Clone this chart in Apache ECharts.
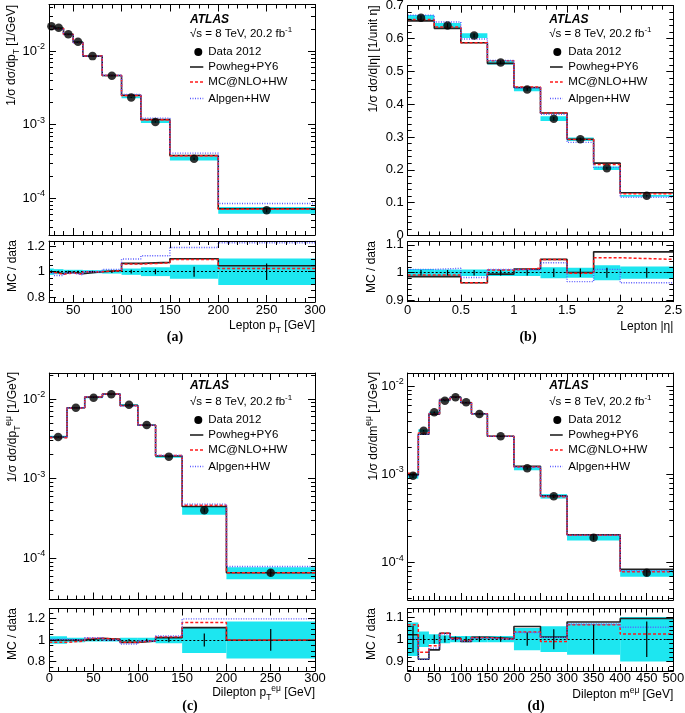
<!DOCTYPE html>
<html><head><meta charset="utf-8">
<script src="https://cdn.jsdelivr.net/npm/echarts@6/dist/echarts.min.js"></script>
<style>html,body{margin:0;padding:0;background:#fff}#c{width:685px;height:713px}</style>
</head><body><div id="c"></div>
<script>
// ---------------- Panel (a): lepton pT ----------------
const aEdges  = [25,30,40,50,60,80,100,120,150,200,300];
const aData   = [0.0218,0.0207,0.0170,0.0134,0.00855,0.00462,0.00235,0.00109,0.000345,0.000069];
const aTotErr = [0.025,0.02,0.015,0.015,0.012,0.015,0.025,0.035,0.055,0.105];
const aStatErr= [0.01,0.008,0.008,0.008,0.007,0.01,0.015,0.02,0.04,0.065];
const aPowheg = [1.0,0.985,0.995,0.985,1.0,1.01,1.066,1.074,1.103,1.047];
const aMcnlo  = [0.995,0.98,0.99,0.98,1.0,1.008,1.06,1.07,1.097,1.026];
const aAlpgen = [0.99,0.97,0.99,0.975,1.0,1.018,1.10,1.126,1.192,1.229];
const aXLabels = [50,100,150,200,250,300];

// ---------------- Panel (b): lepton |eta| ----------------
const bEdges  = [0,0.25,0.5,0.75,1,1.25,1.5,1.75,2,2.5];
const bData   = [0.663,0.640,0.609,0.527,0.445,0.356,0.293,0.205,0.121];
const bTotErr = [0.013,0.012,0.012,0.012,0.012,0.02,0.018,0.027,0.022];
const bStatErr= [0.01,0.01,0.01,0.01,0.01,0.015,0.015,0.018,0.018];
const bPowheg = [0.986,0.986,0.964,0.995,1.013,1.048,1.001,1.075,1.075];
const bMcnlo  = [0.992,0.992,0.964,1.01,1.016,1.048,0.998,1.054,1.048];
const bAlpgen = [1.012,1.016,0.983,1.012,1.01,1.036,0.968,1.012,0.964];
const bXLabels = [0,0.5,1,1.5,2,2.5];
const bYLabels = [0,0.1,0.2,0.3,0.4,0.5,0.6,0.7];

// ---------------- Panel (c): dilepton pT ----------------
const cEdges  = [0,20,40,60,80,100,120,150,200,300];
const cData   = [0.00333,0.00778,0.0104,0.01145,0.00849,0.00472,0.00189,0.000401,0.000066];
const cTotErr = [0.035,0.02,0.015,0.015,0.02,0.02,0.03,0.12,0.17];
const cStatErr= [0.01,0.008,0.008,0.008,0.01,0.012,0.02,0.06,0.1];
const cPowheg = [1.0,1.0,1.015,1.006,0.978,0.99,1.02,1.114,0.997];
const cMcnlo  = [0.978,0.99,1.015,1.006,0.978,0.993,1.03,1.16,1.0];
const cAlpgen = [1.006,1.0,1.02,1.0,0.963,0.99,1.037,1.194,1.194];
const cXLabels = [0,50,100,150,200,250,300];

// ---------------- Panel (d): dilepton mass ----------------
const dEdges  = [0,20,40,60,80,100,120,150,200,250,300,400,500];
const dData   = [0.000966,0.00312,0.00503,0.00682,0.00744,0.00653,0.00482,0.00269,0.00117,0.000564,0.000192,0.000077];
const dTotErr = [0.075,0.035,0.022,0.018,0.014,0.014,0.014,0.014,0.05,0.058,0.07,0.1];
const dStatErr= [0.06,0.02,0.02,0.015,0.012,0.012,0.012,0.012,0.03,0.045,0.065,0.08];
const dPowheg = [1.02,0.91,0.952,1.027,1.005,0.99,1.008,1.003,1.057,1.01,1.077,1.093];
const dMcnlo  = [1.065,0.941,0.97,1.027,1.003,0.994,1.008,1.0,1.032,0.99,1.065,1.023];
const dAlpgen = [1.005,0.91,0.96,1.023,1.0,0.99,1.005,1.0,1.03,1.008,1.068,1.054];
const dXLabels = [0,50,100,150,200,250,300,350,400,450,500];

const logLabels = [1e-4,1e-3,1e-2];
const ratioLabels1 = [0.8,1,1.2];
const ratioLabels2 = [0.9,1,1.1];

// ---------------- style ----------------
const FONT = '"Liberation Sans", Arial, Helvetica, sans-serif';
const CYAN = '#1de6f0';
const MC = [
  {key:'pow', name:'Powheg+PY6',  color:'#222222', width:1.6, dash:'solid'},
  {key:'mc',  name:'MC@NLO+HW',   color:'#ff1a1a', width:1.5, dash:[3,2]},
  {key:'alp', name:'Alpgen+HW',   color:'#5a5aff', width:1.4, dash:[1,1.5]}
];

const option = {animation:false, backgroundColor:'#fff', grid:[], xAxis:[], yAxis:[], series:[], graphic:[]};

function ticksRange(a, b, step, excl) {
  const out = [];
  for (let k = Math.ceil(a/step - 1e-9); k*step <= b + 1e-9; k++) {
    const v = +(k*step).toFixed(6);
    if (!excl.some(e => Math.abs(e - v) < 1e-9)) out.push(v);
  }
  return out;
}
function logMinor(min, max) {
  const out = [];
  for (let d = Math.floor(Math.log10(min)); d <= Math.ceil(Math.log10(max)); d++)
    for (let m = 2; m <= 9; m++) { const v = m*Math.pow(10, d); if (v >= min && v <= max) out.push(v); }
  return out;
}
const fmtNum = v => String(+(+v).toFixed(3));
const fmtLog = v => '{b|10}{s|' + Math.round(Math.log10(v)) + '}';
const LABEL_RICH = {
  b:{fontSize:13, color:'#000', fontFamily:FONT, lineHeight:18},
  s:{fontSize:9, color:'#000', fontFamily:FONT, lineHeight:9, verticalAlign:'top'}
};

function axis(gi, pos, s, ticks, len, withLabels, noLine) {
  const a = {type:s.type, gridIndex:gi, position:pos, min:s.min, max:s.max, z:10,
    axisLine:{show:!noLine, onZero:false, lineStyle:{color:'#000', width:1}},
    axisTick:{show:true, inside:true, length:len, customValues:ticks, lineStyle:{color:'#000', width:1}},
    axisLabel: withLabels ? {show:true, customValues:s.labels, formatter:s.fmt, color:'#000', fontSize:13,
      fontFamily:FONT, margin:s.margin, rich:LABEL_RICH} : {show:false},
    splitLine:{show:false}, minorTick:{show:false}, minorSplitLine:{show:false}};
  if (s.type === 'log') a.logBase = 10;
  return a;
}
function addFrame(rect, xs, ys) {
  const g0 = option.grid.length;
  option.grid.push(Object.assign({containLabel:false, outerBoundsMode:'none'}, rect));
  option.grid.push(Object.assign({containLabel:false, outerBoundsMode:'none'}, rect));
  const xi = option.xAxis.length, yi = option.yAxis.length;
  option.xAxis.push(axis(g0, 'bottom', xs, xs.labels, 7, xs.showLabels));
  option.xAxis.push(axis(g0, 'top', xs, xs.labels, 7, false));
  option.xAxis.push(axis(g0+1, 'bottom', xs, xs.minor, 4, false, true));
  option.xAxis.push(axis(g0+1, 'top', xs, xs.minor, 4, false, true));
  option.yAxis.push(axis(g0, 'left', ys, ys.labels, 7, true));
  option.yAxis.push(axis(g0, 'right', ys, ys.labels, 7, false));
  option.yAxis.push(axis(g0+1, 'left', ys, ys.minor, 4, false, true));
  option.yAxis.push(axis(g0+1, 'right', ys, ys.minor, 4, false, true));
  return {xi, yi};
}

function bandItem(params, api) {
  const lo = api.value(0), hi = api.value(1), v = api.value(2), e = api.value(3);
  const p1 = api.coord([lo, v*(1+e)]), p2 = api.coord([hi, v*(1-e)]);
  return {type:'rect', shape:{x:p1[0], y:p1[1], width:p2[0]-p1[0], height:p2[1]-p1[1]}, style:{fill:CYAN}};
}
function errItem(params, api) {
  const c = api.value(0), v = api.value(1), s = api.value(2);
  const p1 = api.coord([c, v*(1+s)]), p2 = api.coord([c, v*(1-s)]);
  return {type:'line', shape:{x1:p1[0], y1:p1[1], x2:p2[0], y2:p2[1]}, style:{stroke:'#000', lineWidth:1.2}};
}
function stepLine(ax, edges, vals, mc, z, extra) {
  const pts = edges.map((e, i) => [e, vals[Math.min(i, vals.length-1)]]);
  return Object.assign({type:'line', name:mc.name, xAxisIndex:ax.xi, yAxisIndex:ax.yi, data:pts, step:'end',
    symbol:'none', showSymbol:false, clip:true, silent:true, z,
    lineStyle:{color:mc.color, width:mc.width, type:mc.dash}}, extra || {});
}

function addPanel(P) {
  const m = addFrame(P.mainRect, Object.assign({showLabels:false}, P.x), P.mainY);
  const r = addFrame(P.ratioRect, Object.assign({showLabels:true}, P.x), P.ratioY);
  const n = P.data.length;
  const centers = P.data.map((_, i) => (P.edges[i] + P.edges[i+1]) / 2);
  const ratios = {pow:P.pow, mc:P.mc, alp:P.alp};
  // main plot
  option.series.push({type:'custom', xAxisIndex:m.xi, yAxisIndex:m.yi, renderItem:bandItem, clip:true, silent:true, z:1,
    encode:{x:[0,1], y:2}, data:P.data.map((v, i) => [P.edges[i], P.edges[i+1], v, P.tot[i]])});
  MC.forEach((mc, k) => option.series.push(stepLine(m, P.edges, P.data.map((v, i) => v*ratios[mc.key][i]), mc, 2+k)));
  option.series.push({type:'custom', xAxisIndex:m.xi, yAxisIndex:m.yi, renderItem:errItem, clip:true, silent:true, z:6,
    encode:{x:0, y:1}, data:centers.map((c, i) => [c, P.data[i], P.stat[i]])});
  option.series.push({type:'scatter', name:'Data 2012', xAxisIndex:m.xi, yAxisIndex:m.yi, silent:true, z:7,
    data:centers.map((c, i) => [c, P.data[i]]), symbol:'circle', symbolSize:8.5, itemStyle:{color:'#000'}});
  // ratio plot
  option.series.push({type:'custom', xAxisIndex:r.xi, yAxisIndex:r.yi, renderItem:bandItem, clip:true, silent:true, z:1,
    encode:{x:[0,1], y:2}, data:P.data.map((v, i) => [P.edges[i], P.edges[i+1], 1, P.tot[i]])});
  MC.forEach((mc, k) => option.series.push(stepLine(r, P.edges, ratios[mc.key], mc, 3+k, k === 0 ? {
    markLine:{silent:true, symbol:['none','none'], animation:false, label:{show:false}, z:2,
      lineStyle:{color:'#000', type:[2,2], width:1}, data:[{yAxis:1}]}} : null)));
  option.series.push({type:'custom', xAxisIndex:r.xi, yAxisIndex:r.yi, renderItem:errItem, clip:true, silent:true, z:7,
    encode:{x:0, y:1}, data:centers.map((c, i) => [c, 1, P.stat[i]])});
}

// ---------------- text helpers ----------------
const TXT_RICH = {
  n:{fontSize:12, fontFamily:FONT, fill:'#000', lineHeight:18},
  sub:{fontSize:8.5, fontFamily:FONT, fill:'#000', lineHeight:9, verticalAlign:'bottom'},
  sup:{fontSize:8.5, fontFamily:FONT, fill:'#000', lineHeight:9, verticalAlign:'top'}
};
function txt(x, y, text, opts) {
  option.graphic.push(Object.assign({type:'text', x, y, silent:true, z:100,
    style:Object.assign({text, rich:TXT_RICH, fill:'#000', fontFamily:FONT, fontSize:12, align:'left', verticalAlign:'middle'}, (opts && opts.style) || {})},
    (opts && opts.el) || {}));
}
function yTitle(x, yTop, text) { txt(x, yTop, text, {style:{align:'right'}, el:{rotation:Math.PI/2}}); }
function yTitleC(x, yc, text) { txt(x, yc, text, {style:{align:'center'}, el:{rotation:Math.PI/2}}); }

const LEG_RICH = {
  n:{fontSize:11.5, fontFamily:FONT, fill:'#000', lineHeight:16},
  sup:{fontSize:8, fontFamily:FONT, fill:'#000', lineHeight:8, verticalAlign:'top'}
};
function addLegend(o) {
  txt(o.xA, o.yAtlas, 'ATLAS', {style:{fontWeight:'bold', fontStyle:'italic', fontSize:12}});
  txt(o.xA, o.ySqrt, '{n|\u221As = 8 TeV, 20.2 fb}{sup|-1}', {style:{rich:LEG_RICH}});
  option.graphic.push({type:'circle', silent:true, z:100, shape:{cx:o.xDot, cy:o.rows[0], r:4}, style:{fill:'#000'}});
  txt(o.xT, o.rows[0], 'Data 2012', {style:{fontSize:11.5}});
  MC.forEach((mc, k) => {
    const y = o.rows[k+1];
    option.graphic.push({type:'line', silent:true, z:100, shape:{x1:o.xL1, y1:y, x2:o.xL2, y2:y},
      style:{stroke:mc.color, lineWidth:mc.width, lineDash:Array.isArray(mc.dash) ? mc.dash : null}});
    txt(o.xT, y, mc.name, {style:{fontSize:11.5}});
  });
}

// ---------------- panels ----------------
addPanel({
  edges:aEdges, data:aData, tot:aTotErr, stat:aStatErr, pow:aPowheg, mc:aMcnlo, alp:aAlpgen,
  mainRect:{left:49, top:4.5, width:266, height:230.5},
  ratioRect:{left:49, top:241, width:266, height:61},
  x:{type:'value', min:25, max:300, labels:aXLabels, minor:ticksRange(25, 300, 10, aXLabels), fmt:fmtNum, margin:2},
  mainY:{type:'log', min:3.17e-5, max:0.043, labels:logLabels, minor:logMinor(3.17e-5, 0.043), fmt:fmtLog, margin:4},
  ratioY:{type:'value', min:0.76, max:1.243, labels:ratioLabels1, minor:ticksRange(0.76, 1.243, 0.05, ratioLabels1), fmt:fmtNum, margin:4}
});
addPanel({
  edges:bEdges, data:bData, tot:bTotErr, stat:bStatErr, pow:bPowheg, mc:bMcnlo, alp:bAlpgen,
  mainRect:{left:407.7, top:5.7, width:265.6, height:229.8},
  ratioRect:{left:407.7, top:241.7, width:265.6, height:60},
  x:{type:'value', min:0, max:2.5, labels:bXLabels, minor:ticksRange(0, 2.5, 0.1, bXLabels), fmt:fmtNum, margin:2},
  mainY:{type:'value', min:0, max:0.7, labels:bYLabels, minor:ticksRange(0, 0.7, 0.02, bYLabels), fmt:fmtNum, margin:4},
  ratioY:{type:'value', min:0.896, max:1.1115, labels:ratioLabels2, minor:ticksRange(0.896, 1.1115, 0.02, ratioLabels2), fmt:fmtNum, margin:4}
});
addPanel({
  edges:cEdges, data:cData, tot:cTotErr, stat:cStatErr, pow:cPowheg, mc:cMcnlo, alp:cAlpgen,
  mainRect:{left:49.3, top:373, width:265.7, height:226.5},
  ratioRect:{left:49.3, top:608.5, width:265.7, height:62.5},
  x:{type:'value', min:0, max:300, labels:cXLabels, minor:ticksRange(0, 300, 10, cXLabels), fmt:fmtNum, margin:1},
  mainY:{type:'log', min:3.04e-5, max:0.0212, labels:logLabels, minor:logMinor(3.04e-5, 0.0212), fmt:fmtLog, margin:4},
  ratioY:{type:'value', min:0.714, max:1.29, labels:ratioLabels1, minor:ticksRange(0.714, 1.29, 0.05, ratioLabels1), fmt:fmtNum, margin:4}
});
addPanel({
  edges:dEdges, data:dData, tot:dTotErr, stat:dStatErr, pow:dPowheg, mc:dMcnlo, alp:dAlpgen,
  mainRect:{left:407.7, top:373, width:265.6, height:227},
  ratioRect:{left:407.7, top:608.5, width:265.6, height:62.5},
  x:{type:'value', min:0, max:500, labels:dXLabels, minor:ticksRange(0, 500, 10, dXLabels), fmt:fmtNum, margin:1},
  mainY:{type:'log', min:3.78e-5, max:0.01403, labels:logLabels, minor:logMinor(3.78e-5, 0.01403), fmt:fmtLog, margin:4},
  ratioY:{type:'value', min:0.857, max:1.138, labels:ratioLabels2, minor:ticksRange(0.857, 1.138, 0.02, ratioLabels2), fmt:fmtNum, margin:4}
});

// legends
addLegend({xA:190, yAtlas:20, ySqrt:33.5, rows:[52,67,82,98.5], xDot:198.3, xL1:190, xL2:203.3, xT:208.3});
addLegend({xA:549.3, yAtlas:20, ySqrt:33.5, rows:[52,67,82,98.5], xDot:557.3, xL1:550, xL2:562.7, xT:568.3});
addLegend({xA:190, yAtlas:386, ySqrt:402, rows:[420,435,450,466.5], xDot:198.3, xL1:190, xL2:203.3, xT:208.3});
addLegend({xA:549.3, yAtlas:386, ySqrt:402, rows:[420,435,450,466.5], xDot:557.3, xL1:550, xL2:562.7, xT:568.3});

// axis titles
yTitle(12, 5, '{n|1/\u03C3 d\u03C3/dp}{sub|T}{n| [1/GeV]}');
yTitle(373.5, 5.5, '{n|1/\u03C3 d\u03C3/d|\u03B7| [1/unit \u03B7]}');
yTitle(13, 372, '{n|1/\u03C3 d\u03C3/dp}{sub|T}{sup|e\u03BC}{n| [1/GeV]}');
yTitle(373.5, 372, '{n|1/\u03C3 d\u03C3/dm}{sup|e\u03BC}{n| [1/GeV]}');
yTitleC(13, 266, '{n|MC / data}');
yTitleC(372, 267, '{n|MC / data}');
yTitleC(13, 634, '{n|MC / data}');
yTitleC(372, 634, '{n|MC / data}');
txt(315, 326, '{n|Lepton p}{sub|T}{n| [GeV]}', {style:{align:'right'}});
txt(673.3, 327, '{n|Lepton |\u03B7|}', {style:{align:'right'}});
txt(315, 693, '{n|Dilepton p}{sub|T}{sup|e\u03BC}{n| [GeV]}', {style:{align:'right'}});
txt(673.3, 695, '{n|Dilepton m}{sup|e\u03BC}{n| [GeV]}', {style:{align:'right'}});

// panel labels
const PANEL_FONT = {fontFamily:'"Liberation Serif", "Times New Roman", serif', fontSize:14, fontWeight:'bold', align:'center'};
txt(175, 337, '(a)', {style:PANEL_FONT});
txt(528, 337, '(b)', {style:PANEL_FONT});
txt(190, 706, '(c)', {style:PANEL_FONT});
txt(536, 706, '(d)', {style:PANEL_FONT});

const chart = echarts.init(document.getElementById('c'), null, {renderer:'canvas'});
chart.setOption(option);
</script>
</body></html>
